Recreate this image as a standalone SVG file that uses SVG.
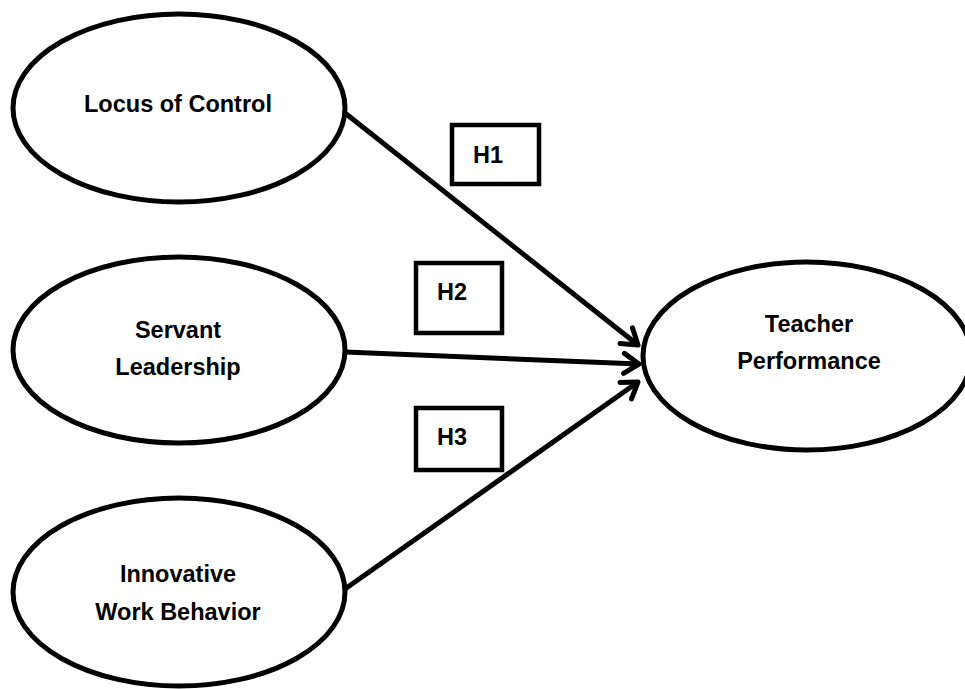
<svg xmlns="http://www.w3.org/2000/svg" width="965" height="689" viewBox="0 0 965 689">
<style>
.node ellipse{fill:#fff;stroke:#000;stroke-width:5}
.box rect{fill:#fff;stroke:#000;stroke-width:4.5}
text{font-family:"Liberation Sans",Arial,sans-serif;font-weight:bold;font-size:23.5px;fill:#000;text-anchor:middle}
.conn line{stroke:#000;stroke-width:5}
</style>
<defs>
<marker id="arr" markerUnits="userSpaceOnUse" orient="auto" markerWidth="30" markerHeight="30" refX="0" refY="0" viewBox="-20 -15 25 30" overflow="visible">
<path d="M-15,-10 L0,0 L-15,10" fill="none" stroke="#000" stroke-width="5" stroke-linecap="round" stroke-linejoin="round"/>
</marker>
</defs>
<rect width="965" height="689" fill="#fff"/>
<g id="connectors" class="conn">
<line x1="345" y1="113" x2="638" y2="345" marker-end="url(#arr)"/>
<line x1="345" y1="352" x2="639" y2="364" marker-end="url(#arr)"/>
<line x1="345" y1="589" x2="638" y2="382" marker-end="url(#arr)"/>
</g>
<g id="locus" class="node">
<ellipse cx="179" cy="108" rx="166" ry="94"/>
<text x="178" y="112">Locus of Control</text>
</g>
<g id="servant" class="node">
<ellipse cx="179" cy="350" rx="166" ry="93"/>
<text x="178" y="338">Servant</text>
<text x="178" y="375">Leadership</text>
</g>
<g id="innovative" class="node">
<ellipse cx="179" cy="592" rx="166" ry="94"/>
<text x="178" y="582">Innovative</text>
<text x="178" y="620">Work Behavior</text>
</g>
<g id="teacher" class="node">
<ellipse cx="807" cy="356" rx="164" ry="94"/>
<text x="809" y="332">Teacher</text>
<text x="809" y="369">Performance</text>
</g>
<g id="h1" class="box">
<rect x="452" y="125" width="87" height="59"/>
<text x="488" y="163">H1</text>
</g>
<g id="h2" class="box">
<rect x="416" y="263" width="86" height="70"/>
<text x="452" y="300">H2</text>
</g>
<g id="h3" class="box">
<rect x="416" y="408" width="86" height="62"/>
<text x="452" y="445">H3</text>
</g>
</svg>
